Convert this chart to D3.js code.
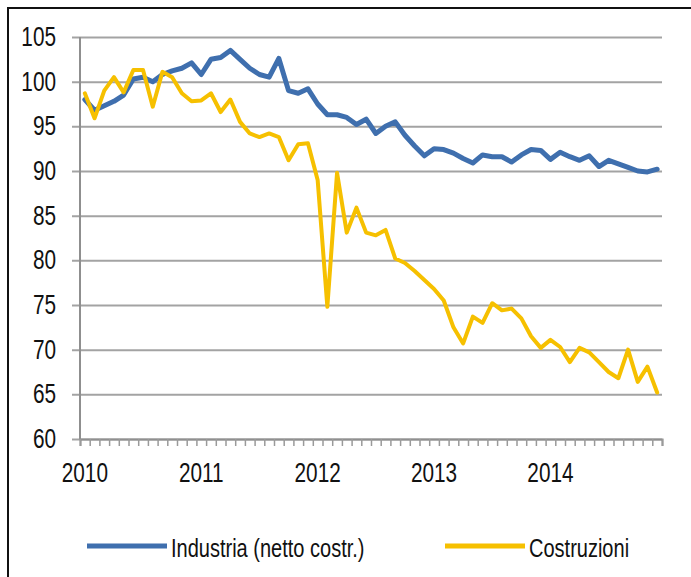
<!DOCTYPE html>
<html lang="it">
<meta charset="utf-8">
<style type="text/css">
  body { margin: 0; background: #fff; }
  text { font-family: 'Liberation Sans', Arial, sans-serif; fill: #111; }
</style>
<script src="https://d3js.org/d3.v7.min.js"></script>
<body>
<div id="chart"></div>
<script type="text/javascript">
  // chart size
  var w = 691, h = 577;

  var years = ['2010', '2011', '2012', '2013', '2014'];
  var monthNums = ['01', '02', '03', '04', '05', '06', '07', '08', '09', '10', '11', '12'];
  var yTicks = [60, 65, 70, 75, 80, 85, 90, 95, 100, 105];

  // Industria (netto costr.), monthly 2010-2014
  var industria = [
    98.0, 96.8, 97.3, 97.8, 98.5, 100.3, 100.5, 100.0, 100.8, 101.2, 101.5, 102.1,
    100.8, 102.5, 102.7, 103.5, 102.5, 101.5, 100.8, 100.5, 102.6, 99.0, 98.7, 99.2,
    97.5, 96.3, 96.3, 96.0, 95.2, 95.8, 94.2, 95.0, 95.5, 94.0, 92.8, 91.7,
    92.5, 92.4, 92.0, 91.4, 90.9, 91.8, 91.6, 91.6, 91.0, 91.8, 92.4, 92.3,
    91.3, 92.1, 91.6, 91.2, 91.7, 90.5, 91.2, 90.8, 90.4, 90.0, 89.9, 90.2
  ];
  // Costruzioni
  var costruzioni = [
    98.7, 95.9, 99.0, 100.5, 98.8, 101.3, 101.3, 97.2, 101.1, 100.5, 98.7, 97.8,
    97.9, 98.7, 96.6, 98.0, 95.5, 94.2, 93.8, 94.2, 93.8, 91.2, 93.0, 93.1,
    89.0, 74.8, 89.8, 83.1, 85.9, 83.1, 82.8, 83.4, 80.2, 79.7, 78.8, 77.8,
    76.8, 75.5, 72.5, 70.7, 73.7, 73.0, 75.2, 74.4, 74.6, 73.5, 71.5, 70.2,
    71.1, 70.3, 68.6, 70.2, 69.7, 68.6, 67.5, 66.8, 70.0, 66.4, 68.1, 65.2
  ];

  var seriesNames = ['Industria (netto costr.)', 'Costruzioni'];
  var colors = ['#3f6fae', '#f6c000'];

  var months = [];
  years.forEach(function(yr) {
    monthNums.forEach(function(m) { months.push(yr + '-' + m); });
  });

  var plotL = 80, plotR = 662, plotT = 37, plotB = 439;
  var sx = 0.77; // condensed look of the original font

  var svg = d3.select('#chart').append('svg')
      .attr('width', w)
      .attr('height', h);

  // frame
  svg.append('path')
      .attr('d', 'M8,' + h + 'V8H' + w)
      .attr('fill', 'none')
      .attr('stroke', '#111')
      .attr('stroke-width', 2);

  var x = d3.scaleBand()
      .domain(months)
      .range([plotL, plotR]);

  var xEdge = d3.scaleLinear()
      .domain([0, months.length])
      .range([plotL, plotR]);

  var y = d3.scaleLinear()
      .domain([60, 105])
      .range([plotB, plotT]);

  // gridlines + y ticks
  svg.append('g')
      .attr('transform', 'translate(' + plotL + ',0)')
      .call(d3.axisLeft(y).tickValues(yTicks).tickSize(8).tickFormat(''))
      .call(function(g) {
        g.select('.domain').remove();
        g.selectAll('.tick line')
          .attr('x2', plotR - plotL)
          .attr('x1', -8)
          .attr('stroke', '#a3a3a3')
          .attr('stroke-width', 2);
      });

  // y axis line
  svg.append('line')
      .attr('x1', plotL).attr('x2', plotL)
      .attr('y1', plotT).attr('y2', plotB)
      .attr('stroke', '#8f8f8f')
      .attr('stroke-width', 2);

  // x axis with a tick at every month boundary
  svg.append('g')
      .attr('transform', 'translate(0,' + plotB + ')')
      .call(d3.axisBottom(xEdge).tickValues(d3.range(months.length + 1)).tickSize(7).tickFormat(''))
      .call(function(g) {
        g.select('.domain').attr('stroke', '#8f8f8f').attr('stroke-width', 2);
        g.selectAll('.tick line').attr('stroke', '#9a9a9a').attr('stroke-width', 1.5);
      });

  // y labels
  svg.append('g').selectAll('text')
      .data(yTicks)
      .enter()
      .append('text')
        .attr('transform', (d) => 'translate(56,' + (y(d) + 9) + ') scale(' + sx + ',1)')
        .attr('text-anchor', 'end')
        .style('font-size', '27px')
        .text((d) => d);

  // x labels (one per year, on January)
  svg.append('g').selectAll('text')
      .data(years)
      .enter()
      .append('text')
        .attr('transform', (d) => 'translate(' + (x(d + '-01') + x.bandwidth() / 2) + ',482) scale(' + sx + ',1)')
        .attr('text-anchor', 'middle')
        .style('font-size', '27px')
        .text((d) => d);

  // lines
  var line = d3.line()
      .x((d, i) => x(months[i]) + x.bandwidth() / 2)
      .y((d) => y(d));

  [industria, costruzioni].forEach(function(s, k) {
    svg.append('path')
        .datum(s)
        .attr('d', line)
        .attr('fill', 'none')
        .attr('stroke', colors[k])
        .attr('stroke-width', k === 0 ? 5 : 4)
        .attr('stroke-linejoin', 'round')
        .attr('stroke-linecap', 'round');
  });

  // legend
  var legX = [87, 445];
  var legend = svg.append('g').selectAll('g')
      .data(seriesNames)
      .enter()
      .append('g');
  legend.append('line')
      .attr('x1', (d, i) => legX[i])
      .attr('x2', (d, i) => legX[i] + 80)
      .attr('y1', 546).attr('y2', 546)
      .attr('stroke', (d, i) => colors[i])
      .attr('stroke-width', 5);
  legend.append('text')
      .attr('transform', (d, i) => 'translate(' + (legX[i] + 84) + ',557) scale(' + sx + ',1)')
      .style('font-size', '26px')
      .text((d) => d);
</script>
</body>
</html>
